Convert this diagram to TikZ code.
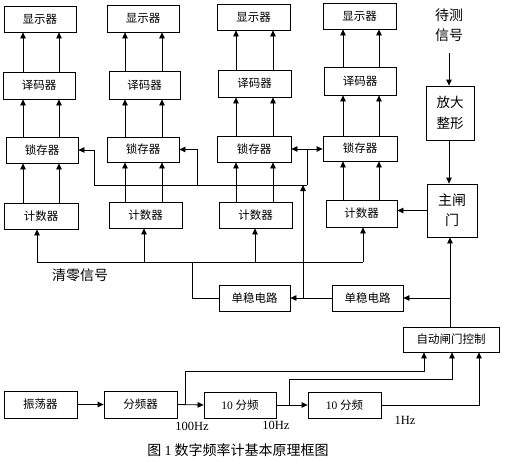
\documentclass[tikz,border=0pt]{standalone}
\usepackage{fontspec}
\setmainfont{Liberation Serif}
\newfontfamily\cjk{Noto Sans CJK SC}
\usetikzlibrary{arrows.meta}
\tikzset{
  box/.style={draw, line width=0.8pt, inner sep=0pt, align=center,
    font=\cjk\fontsize{11.5}{13}\selectfont},
  ln/.style={line width=0.8pt},
  arr/.style={line width=0.8pt, -{Triangle[length=6pt,width=5.5pt]}},
  lbl/.style={inner sep=0pt, font=\rmfamily\fontsize{12.5}{14}\selectfont},
  bigtxt/.style={inner sep=0pt, align=center, font=\cjk\fontsize{14}{20}\selectfont}
}
\newcommand{\mybox}[7][]{\node[box,#1, minimum width={(#5-#3)*1pt}, minimum height={(#6-#4)*1pt}] (#2) at ({(#3+#5)/2},{(#4+#6)/2}) {#7};}
\begin{document}
\begin{tikzpicture}[x=1pt,y=-1pt]
\fill[white] (0,0) rectangle (506,461);
\useasboundingbox (0,0) rectangle (506,461);
% columns
\mybox{disp1}{4}{6}{76}{32}{显示器}
\mybox{disp2}{107}{5}{179}{32}{显示器}
\mybox{disp3}{217}{4}{290}{30}{显示器}
\mybox{disp4}{323}{3}{396}{29}{显示器}
\mybox{dec1}{3}{72}{75}{99}{译码器}
\mybox{dec2}{109}{71}{180}{99}{译码器}
\mybox{dec3}{218}{70}{291}{97}{译码器}
\mybox{dec4}{324}{67}{396}{95}{译码器}
\mybox{lat1}{6}{137}{78}{163}{锁存器}
\mybox{lat2}{107}{137}{179}{162}{锁存器}
\mybox{lat3}{217}{136}{291}{162}{锁存器}
\mybox{lat4}{323}{136}{397}{161}{锁存器}
\mybox{cnt1}{4}{203}{78}{229}{计数器}
\mybox{cnt2}{109}{202}{182}{228}{计数器}
\mybox{cnt3}{219}{202}{292}{228}{计数器}
\mybox{cnt4}{326}{200}{397}{227}{计数器}
% right side
\mybox[font=\cjk\fontsize{13.5}{21}\selectfont]{fd}{426}{86}{474}{140}{放大\\整形}
\mybox[font=\cjk\fontsize{14}{20}\selectfont]{zmm}{427}{184}{477}{237}{主闸\\门}
\mybox{sdR}{332}{285}{403}{311}{单稳电路}
\mybox{sdL}{219}{285}{290}{311}{单稳电路}
\mybox{zdk}{403}{327}{499}{352}{自动闸门控制}
% bottom chain
\mybox{zdq}{4}{391}{77}{418}{振荡器}
\mybox{fpq}{104}{391}{177}{418}{分频器}
\mybox{fa}{204}{392}{276}{418}{{\rmfamily 10} 分频}
\mybox{fb}{308}{392}{381}{418}{{\rmfamily 10} 分频}
% texts
\node[bigtxt] (dcxh) at (449,25) {待测\\信号};
\node[bigtxt] (qlxh) at (80,275) {清零信号};
\node[bigtxt] (cap) at (238,450) {图 {\rmfamily 1} 数字频率计基本原理框图};
\node[lbl] (hz100) at (192,426) {100Hz};
\node[lbl] (hz10) at (276,425) {10Hz};
\node[lbl] (hz1) at (405,420) {1Hz};
% vertical arrows in columns
\foreach \i/\a/\b in {1/23/59,2/125/162,3/236/273,4/343/379}{
  \draw[arr] (dec\i.north -| \a,0) -- (disp\i.south -| \a,0);
  \draw[arr] (dec\i.north -| \b,0) -- (disp\i.south -| \b,0);
  \draw[arr] (lat\i.north -| \a,0) -- (dec\i.south -| \a,0);
  \draw[arr] (lat\i.north -| \b,0) -- (dec\i.south -| \b,0);
  \draw[arr] (cnt\i.north -| \a,0) -- (lat\i.south -| \a,0);
  \draw[arr] (cnt\i.north -| \b,0) -- (lat\i.south -| \b,0);
}
% latch signal
\coordinate (l1) at (94,185);
\coordinate (l2) at (197,185);
\coordinate (l3) at (307,185);
\draw[ln] (l1) -- (l3);
\draw[arr] (l1) |- (lat1.east);
\draw[arr] (l2) |- (lat2.east);
\draw[ln] (l3) -- (l3 |- lat3.east);
\draw[arr] (l3 |- lat3.east) -- (lat3.east);
\draw[arr] (l3 |- lat3.east) -- (lat4.west |- lat3.east);
% clear signal
\coordinate (qa) at (37,262);
\coordinate (qd) at (363,262);
\coordinate (qj) at (192,262);
\draw[ln] (qa) -- (qd);
\draw[arr] (qa) -- (qa |- cnt1.south);
\draw[arr] (qa -| 144,0) -- (cnt2.south -| 144,0);
\draw[arr] (qa -| 255,0) -- (cnt3.south -| 255,0);
\draw[arr] (qd) -- (qd |- cnt4.south);
\draw[ln] (sdL.west) -| (qj);
% monostables
\coordinate (sj) at (303,298);
\draw[arr] (sdR.west) -- (sdL.east);
\draw[arr] (sj) -- (sj |- l1);
% input path
\coordinate (din) at (449,53);
\draw[arr] (din) -- (din |- fd.north);
\draw[arr] (fd.south -| 449,0) -- (zmm.north -| 449,0);
\draw[arr] (zmm.west) -- (zmm.west -| cnt4.east);
\coordinate (zc) at (450,298);
\draw[arr] (zdk.north -| zc) -- (zmm.south -| zc);
\draw[arr] (zc) -- (sdR.east);
% bottom chain
\draw[arr] (zdq.east) -- (fpq.west);
\draw[arr] (fpq.east) -- (fa.west);
\draw[arr] (fa.east) -- (fb.west);
\coordinate (b1) at (185,405);
\coordinate (b2) at (289,405);
\draw[arr] (b1) -- (185,371) -| (zdk.south -| 424,0);
\draw[arr] (b2) -- (289,379) -| (zdk.south -| 452,0);
\draw[arr] (fb.east) -| (zdk.south -| 479,0);
\end{tikzpicture}
\end{document}
